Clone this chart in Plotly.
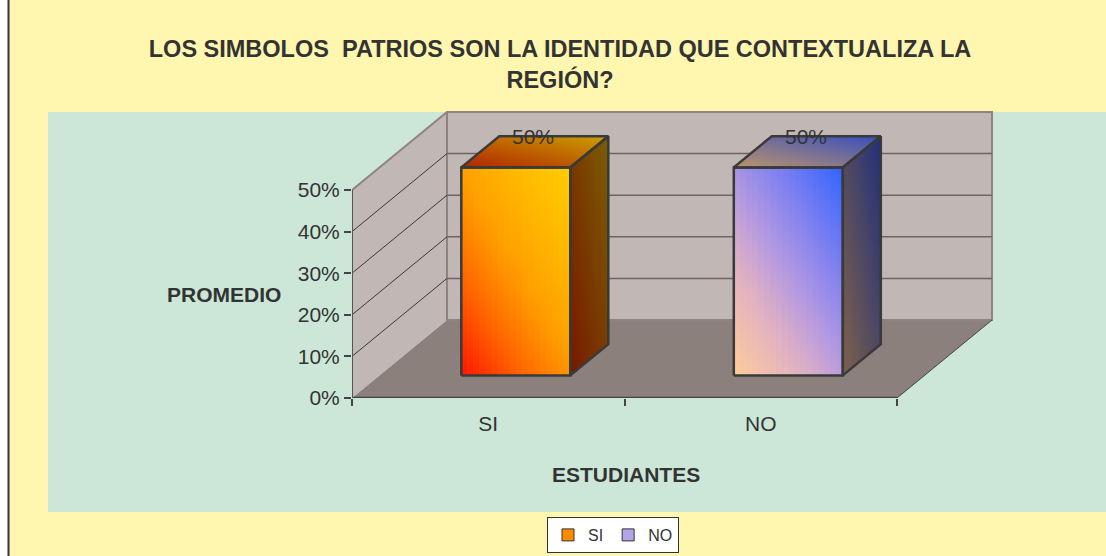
import plotly.graph_objects as go

# ---------------- data ----------------
categories = ["SI", "NO"]
values = [0.5, 0.5]
value_labels = ["50%", "50%"]
ytick_vals = [0.0, 0.1, 0.2, 0.3, 0.4, 0.5]
ytick_text = ["0%", "10%", "20%", "30%", "40%", "50%"]
title_text = "LOS SIMBOLOS  PATRIOS SON LA IDENTIDAD QUE CONTEXTUALIZA LA<br>REGIÓN?"
x_title = "ESTUDIANTES"
y_title = "PROMEDIO"

# ---------------- layout geometry ----------------
W, H = 1106, 556
L, R, T, B = 352, 106, 110, 158
PW, PH = W - L - R, H - T - B
XPX = 272.5          # px per x unit
YPX = 416.0          # px per y unit
x_range = [-0.5, -0.5 + PW / XPX]
y_range = [0.0, PH / YPX]
KX = 95 / XPX        # depth projection (x)
KY = 78 / YPX        # depth projection (y)
DZ0, DZ1 = 0.29, 0.69
HALF = 0.2
NSTRIP = 18
DIAG_W = 0.85

def pxx(px):
    return (px - L) / PW

def pxy(py):
    return (H - B - py) / PH

NARROW = "Liberation Sans Narrow, Arial Narrow, Liberation Sans, Arial"
REG = "Liberation Sans, Arial"
TXT = "#333333"

# diagonal colour ramps for front faces (bottom-left -> top-right)
front_ramps = {
    "SI": [(0.0, (255, 20, 0)), (0.25, (255, 100, 0)), (0.5, (255, 158, 0)),
           (0.75, (255, 184, 0)), (1.0, (255, 206, 0))],
    "NO": [(0.0, (255, 204, 153)), (0.3, (224, 176, 196)), (0.5, (178, 152, 226)),
           (0.75, (118, 124, 242)), (1.0, (48, 100, 255))],
}
face_colors = {
    "SI": dict(side=((120, 24, 0), (122, 94, 0)),
               top=((176, 36, 0), (204, 160, 0))),
    "NO": dict(side=((128, 98, 74), (32, 48, 122)),
               top=((186, 148, 108), (56, 78, 190))),
}
legend_colors = {"SI": "#FF8C00", "NO": "#B4A4E4"}

fig = go.Figure()

# bars (front faces) through the axis scales
for i, (c, v) in enumerate(zip(categories, values)):
    fig.add_trace(go.Bar(
        x=[i + DZ0 * KX], y=[v], base=[DZ0 * KY], width=[2 * HALF],
        name=c, marker=dict(color=legend_colors[c], line=dict(color="#333", width=1)),
        hoverinfo="skip", showlegend=True,
    ))

def rgb(c, a=1.0):
    return f"rgba({int(round(c[0]))},{int(round(c[1]))},{int(round(c[2]))},{a})"

def ramp(stops, t):
    t = min(max(t, 0.0), 1.0)
    for (t0, c0), (t1, c1) in zip(stops[:-1], stops[1:]):
        if t <= t1:
            f = (t - t0) / (t1 - t0) if t1 > t0 else 0
            return tuple(a + (b - a) * f for a, b in zip(c0, c1))
    return stops[-1][1]

def grad_poly(xs, ys, c0, c1):
    xs = xs + xs[:1]
    ys = ys + ys[:1]
    fig.add_trace(go.Scatter(
        x=xs, y=ys, mode="lines", fill="toself", line=dict(width=0),
        fillgradient=dict(type="vertical", colorscale=[[0, rgb(c0)], [1, rgb(c1)]]),
        hoverinfo="skip", showlegend=False))
    fig.add_trace(go.Scatter(
        x=xs, y=ys, mode="lines", fill="toself", line=dict(width=0),
        fillgradient=dict(type="horizontal", colorscale=[[0, rgb(c0, 0.5)], [1, rgb(c1, 0.5)]]),
        hoverinfo="skip", showlegend=False))

def diag_face(xl, xr, y0, y1, stops):
    for k in range(NSTRIP):
        u0, u1 = k / NSTRIP, (k + 1) / NSTRIP
        um = (u0 + u1) / 2
        a = xl + (xr - xl) * u0
        b = xl + (xr - xl) * u1 + (xr - xl) * 0.004
        b = min(b, xr)
        cs = []
        for s in [0, 0.2, 0.4, 0.6, 0.8, 1.0]:
            t = (DIAG_W * um + s) / (1 + DIAG_W)
            cs.append([s, rgb(ramp(stops, t))])
        fig.add_trace(go.Scatter(
            x=[a, b, b, a, a], y=[y0, y0, y1, y1, y0], mode="lines", fill="toself",
            line=dict(width=0), fillgradient=dict(type="vertical", colorscale=cs),
            hoverinfo="skip", showlegend=False))

def outline(xs, ys):
    fig.add_trace(go.Scatter(
        x=xs + xs[:1], y=ys + ys[:1], mode="lines",
        line=dict(color="#3a3a3a", width=2.5),
        hoverinfo="skip", showlegend=False))

for i, (c, v) in enumerate(zip(categories, values)):
    xl, xr = i - HALF, i + HALF
    f = face_colors[c]
    front = ([xl + DZ0 * KX, xr + DZ0 * KX, xr + DZ0 * KX, xl + DZ0 * KX],
             [DZ0 * KY, DZ0 * KY, v + DZ0 * KY, v + DZ0 * KY])
    side = ([xr + DZ0 * KX, xr + DZ1 * KX, xr + DZ1 * KX, xr + DZ0 * KX],
            [DZ0 * KY, DZ1 * KY, v + DZ1 * KY, v + DZ0 * KY])
    top = ([xl + DZ0 * KX, xr + DZ0 * KX, xr + DZ1 * KX, xl + DZ1 * KX],
           [v + DZ0 * KY, v + DZ0 * KY, v + DZ1 * KY, v + DZ1 * KY])
    diag_face(xl + DZ0 * KX, xr + DZ0 * KX, DZ0 * KY, v + DZ0 * KY, front_ramps[c])
    grad_poly(*side, *f["side"])
    grad_poly(*top, *f["top"])
    outline(*front)
    outline(*side)
    outline(*top)

# ---------------- walls, floor, grid (shapes in data coords) ----------------
ymax = max(ytick_vals)
shapes = []
# outer white strip + border, green area
shapes.append(dict(type="rect", xref="paper", yref="paper", x0=pxx(-5), x1=pxx(8), y0=pxy(-5), y1=pxy(H + 5),
                   fillcolor="white", line=dict(width=0), layer="below"))
shapes.append(dict(type="line", xref="paper", yref="paper", x0=pxx(8.5), x1=pxx(8.5), y0=pxy(0), y1=pxy(H),
                   line=dict(color="#333333", width=2), layer="below"))
shapes.append(dict(type="rect", xref="paper", yref="paper", x0=pxx(48), x1=pxx(W + 5), y0=pxy(112), y1=pxy(512),
                   fillcolor="#CCE7D7", line=dict(width=0), layer="below"))

def path(pts):
    return "M " + " L ".join(f"{x},{y}" for x, y in pts) + " Z"

x0a, x1a = -0.5, len(categories) - 0.5
wall_fill = "#C1B7B4"
wall_edge = "#8E8380"
# floor
shapes.append(dict(type="path", xref="x", yref="y",
                   path=path([(x0a, 0), (x1a, 0), (x1a + KX, KY), (x0a + KX, KY)]),
                   fillcolor="#8C807D", line=dict(width=0), layer="below"))
# side wall
shapes.append(dict(type="path", xref="x", yref="y",
                   path=path([(x0a, 0), (x0a, ymax), (x0a + KX, ymax + KY), (x0a + KX, KY)]),
                   fillcolor=wall_fill, line=dict(width=0), layer="below"))
# back wall
shapes.append(dict(type="rect", xref="x", yref="y", x0=x0a + KX, x1=x1a + KX, y0=KY, y1=ymax + KY,
                   fillcolor=wall_fill, line=dict(color=wall_edge, width=2), layer="below"))
# side wall top edge
shapes.append(dict(type="line", xref="x", yref="y", x0=x0a, y0=ymax, x1=x0a + KX, y1=ymax + KY,
                   line=dict(color=wall_edge, width=2), layer="below"))
# grid lines
for v in ytick_vals[1:-1]:
    shapes.append(dict(type="line", xref="x", yref="y", x0=x0a + KX, x1=x1a + KX, y0=v + KY, y1=v + KY,
                       line=dict(color="#6E6664", width=1.5), layer="below"))
    shapes.append(dict(type="line", xref="x", yref="y", x0=x0a, x1=x0a + KX, y0=v, y1=v + KY,
                       line=dict(color="#3a3a3a", width=1), layer="below"))
# floor edges
shapes.append(dict(type="line", xref="x", yref="y", x0=x1a, y0=0, x1=x1a + KX, y1=KY,
                   line=dict(color="#444444", width=1), layer="below"))
shapes.append(dict(type="line", xref="x", yref="y", x0=x0a, y0=0, x1=x1a, y1=0,
                   line=dict(color="#444444", width=2.5), layer="below"))
# y axis line
shapes.append(dict(type="line", xref="x", yref="y", x0=x0a, y0=0, x1=x0a, y1=ymax,
                   line=dict(color="#555555", width=2), layer="below"))

annotations = []
for i, (lab, v) in enumerate(zip(value_labels, values)):
    annotations.append(dict(x=i + 0.476 * KX, y=v + 0.68 * KY, xref="x", yref="y", text=lab,
                            showarrow=False, font=dict(family=REG, size=21, color=TXT),
                            xanchor="center", yanchor="middle"))
annotations.append(dict(x=pxx(224), y=pxy(294), xref="paper", yref="paper", text=f"<b>{y_title}</b>",
                        showarrow=False, font=dict(family=NARROW, size=21, color=TXT),
                        xanchor="center", yanchor="middle"))
annotations.append(dict(x=pxx(626), y=pxy(474), xref="paper", yref="paper", text=f"<b>{x_title}</b>",
                        showarrow=False, font=dict(family=NARROW, size=21, color=TXT),
                        xanchor="center", yanchor="middle"))

fig.update_layout(
    width=W, height=H,
    margin=dict(l=L, r=R, t=T, b=B, pad=0, autoexpand=False),
    paper_bgcolor="#FFF7AF", plot_bgcolor="rgba(0,0,0,0)",
    barmode="overlay",
    title=dict(text=f"<b>{title_text}</b>", x=560 / W, xanchor="center", y=1 - 57 / H, yanchor="middle",
               font=dict(family=NARROW, size=23.5, color=TXT)),
    xaxis=dict(range=x_range, tickmode="array", tickvals=list(range(len(categories))), ticktext=categories,
               ticks="", showgrid=False, zeroline=False, showline=False, fixedrange=True,
               tickfont=dict(family=REG, size=21, color=TXT), ticklabelstandoff=11,
               minor=dict(tickmode="array", tickvals=[k - 0.5 for k in range(len(categories) + 1)],
                          ticks="outside", ticklen=7, tickcolor="#444", tickwidth=1.5, showgrid=False)),
    yaxis=dict(range=y_range, tickmode="array", tickvals=ytick_vals, ticktext=ytick_text,
               ticks="outside", ticklen=7, tickcolor="#444", tickwidth=1.5,
               showgrid=False, zeroline=False, showline=False, fixedrange=True,
               tickfont=dict(family=REG, size=21, color=TXT)),
    shapes=shapes, annotations=annotations,
    showlegend=True,
    legend=dict(orientation="h", xref="container", yref="container",
                x=613 / W, xanchor="center", y=1 - 517 / H, yanchor="top",
                bgcolor="white", bordercolor="#333333", borderwidth=1,
                font=dict(family=REG, size=16, color=TXT), itemwidth=30, traceorder="normal"),
)

fig.write_html(
    "out.html",
    config={"displayModeBar": False},
    post_script="document.body.style.margin='0';",
)
